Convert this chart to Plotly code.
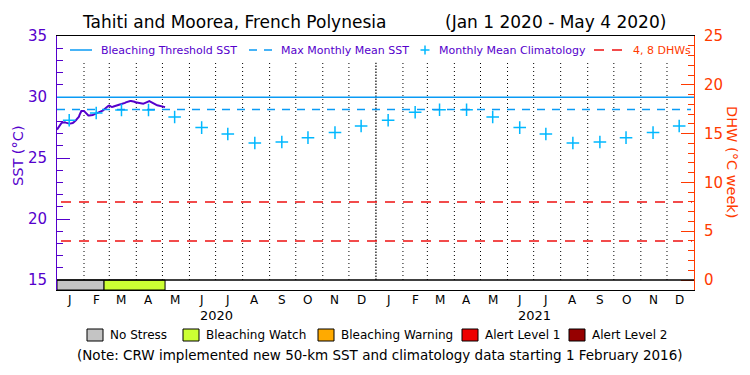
import plotly.graph_objects as go
import pandas as pd

# ---------------- data ----------------
title_left = "Tahiti and Moorea, French Polynesia"
title_right = "(Jan 1 2020 - May 4 2020)"

# daily SST (°C) starting Jan 1 2020, through May 4 2020
sst_start = "2020-01-01"
sst_values = [
    27.33, 27.45, 27.55, 27.65, 27.75, 27.85, 27.90, 27.93, 27.95, 27.93,
    27.90, 27.87, 27.84, 27.82, 27.82, 27.82, 27.82, 27.83, 27.87, 27.92,
    27.97, 28.05, 28.12, 28.20, 28.28, 28.36, 28.55, 28.75, 28.85, 28.86,
    28.86, 28.85, 28.78, 28.68, 28.58, 28.52, 28.48, 28.48, 28.48, 28.48,
    28.50, 28.53, 28.56, 28.59, 28.60, 28.62, 28.64, 28.68, 28.72, 28.77,
    28.80, 28.84, 28.88, 28.91, 28.97, 29.05, 29.12, 29.18, 29.23, 29.28,
    29.30, 29.25, 29.20, 29.18, 29.20, 29.23, 29.25, 29.28, 29.31, 29.33,
    29.36, 29.38, 29.40, 29.41, 29.43, 29.44, 29.45, 29.48, 29.52, 29.56,
    29.59, 29.62, 29.64, 29.66, 29.67, 29.67, 29.67, 29.67, 29.65, 29.61,
    29.57, 29.55, 29.54, 29.53, 29.52, 29.50, 29.49, 29.48, 29.46, 29.45,
    29.48, 29.52, 29.56, 29.59, 29.63, 29.66, 29.67, 29.63, 29.58, 29.54,
    29.49, 29.44, 29.40, 29.37, 29.35, 29.32, 29.30, 29.28, 29.27, 29.25,
    29.24, 29.22, 29.20, 29.18, 29.17,
]

# monthly mean climatology (°C), plotted mid-month
clim_dates = [
    "2020-01-15", "2020-02-15", "2020-03-15", "2020-04-15", "2020-05-15", "2020-06-15",
    "2020-07-15", "2020-08-15", "2020-09-15", "2020-10-15", "2020-11-15", "2020-12-15",
    "2021-01-15", "2021-02-15", "2021-03-15", "2021-04-15", "2021-05-15", "2021-06-15",
    "2021-07-15", "2021-08-15", "2021-09-15", "2021-10-15", "2021-11-15", "2021-12-15",
]
clim_values = [
    28.09, 28.69, 28.93, 28.93, 28.36, 27.49, 26.97, 26.23, 26.31, 26.67, 27.08, 27.62,
    28.09, 28.75, 28.95, 28.95, 28.36, 27.49, 26.97, 26.23, 26.31, 26.67, 27.08, 27.62,
]
month_labels = ["J", "F", "M", "A", "M", "J", "J", "A", "S", "O", "N", "D",
                "J", "F", "M", "A", "M", "J", "J", "A", "S", "O", "N", "D"]
month_starts = [
    "2020-02-01", "2020-03-01", "2020-04-01", "2020-05-01", "2020-06-01", "2020-07-01",
    "2020-08-01", "2020-09-01", "2020-10-01", "2020-11-01", "2020-12-01",
    "2021-02-01", "2021-03-01", "2021-04-01", "2021-05-01", "2021-06-01", "2021-07-01",
    "2021-08-01", "2021-09-01", "2021-10-01", "2021-11-01", "2021-12-01",
]
year_boundary = "2021-01-01"
year_labels = ["2020", "2021"]
year_centers = ["2020-07-02", "2021-07-02"]

max_monthly_mean = 28.97
bleaching_threshold = 29.97
dhw_levels = [4, 8]

# bleaching stress strip
stress_start = ["2020-01-01", "2020-02-24"]
stress_end = ["2020-02-24", "2020-05-04"]
stress_level = [0, 1]

stress_names = ["No Stress", "Bleaching Watch", "Bleaching Warning", "Alert Level 1", "Alert Level 2"]
stress_colors = ["#C4C4C4", "#CCFF33", "#FFAA00", "#EE0000", "#960000"]

note_text = "(Note: CRW implemented new 50-km SST and climatology data starting 1 February 2016)"

# ---------------- styling ----------------
PURPLE = "#5500CC"
ORANGE = "#FF3A00"
BLUE = "#0A9BF5"
CROSS = "#00B8FF"
RED = "#EE1111"
FONT = "DejaVu Sans"

L, R, T, B = 57, 56, 36, 85
W, H = 750, 375
PW, PH = W - L - R, H - T - B  # 637 x 254

def PX(px):
    return (px - L) / PW

def PY(py):
    return (H - B - py) / PH

# axis ranges: 15..35 SST and 0..25 DHW span 244 px; 10 px strip below
Y_LO = 15 - 10 * 20 / 244
Y2_LO = 0 - 10 * 25 / 244

sst_dates = pd.date_range(sst_start, periods=len(sst_values), freq="D")

fig = go.Figure()
fig.add_trace(go.Scatter(x=sst_dates, y=sst_values, mode="lines",
                         line=dict(color=PURPLE, width=2), hoverinfo="skip"))
fig.add_trace(go.Scatter(x=clim_dates, y=clim_values, mode="markers",
                         marker=dict(symbol="cross-thin", size=9,
                                     line=dict(color=CROSS, width=1.5)),
                         hoverinfo="skip"))
fig.add_trace(go.Scatter(x=[sst_dates[0]], y=[0], yaxis="y2", mode="markers",
                         marker=dict(opacity=0), hoverinfo="skip"))

shapes = []
# month separators
for d in month_starts:
    shapes.append(dict(type="line", xref="x", yref="y", x0=d, x1=d, y0=15, y1=32.8,
                       line=dict(color="black", width=1, dash="1px,3px"), layer="below"))
shapes.append(dict(type="line", xref="x", yref="y", x0=year_boundary, x1=year_boundary,
                   y0=15, y1=32.8, line=dict(color="black", width=1.2, dash="1.5px,1.5px"),
                   layer="below"))
# threshold lines
shapes.append(dict(type="line", xref="paper", yref="y", x0=0, x1=1,
                   y0=bleaching_threshold, y1=bleaching_threshold,
                   line=dict(color=BLUE, width=1.5)))
shapes.append(dict(type="line", xref="paper", yref="y", x0=0, x1=PX(691),
                   y0=max_monthly_mean, y1=max_monthly_mean,
                   line=dict(color=BLUE, width=1.5, dash="8px,7px")))
for lv in dhw_levels:
    shapes.append(dict(type="line", xref="paper", yref="y2", x0=PX(61), x1=PX(692),
                       y0=lv, y1=lv, line=dict(color=RED, width=1.5, dash="10px,8px")))
# stress strip
for s0, s1, lv in zip(stress_start, stress_end, stress_level):
    shapes.append(dict(type="rect", xref="x", yref="y", x0=s0, x1=s1, y0=Y_LO, y1=15,
                       fillcolor=stress_colors[lv], line=dict(color="black", width=1)))
shapes.append(dict(type="line", xref="paper", yref="y", x0=0, x1=1, y0=15, y1=15,
                   line=dict(color="black", width=1.5)))

annotations = []
# title
annotations.append(dict(xref="paper", yref="paper", x=PX(80), y=PY(22), text=title_left,
                        showarrow=False, xanchor="left", yanchor="middle",
                        font=dict(family=FONT, size=17, color="black")))
annotations.append(dict(xref="paper", yref="paper", x=PX(668), y=PY(22), text=title_right,
                        showarrow=False, xanchor="right", yanchor="middle",
                        font=dict(family=FONT, size=17, color="black")))

# in-plot legend
LY = PY(50)
shapes.append(dict(type="line", xref="paper", yref="paper", x0=PX(70), x1=PX(92), y0=LY, y1=LY,
                   line=dict(color=BLUE, width=1.5)))
shapes.append(dict(type="line", xref="paper", yref="paper", x0=PX(249), x1=PX(273), y0=LY, y1=LY,
                   line=dict(color=BLUE, width=1.5, dash="8px,7px")))
shapes.append(dict(type="line", xref="paper", yref="paper", x0=PX(420.5), x1=PX(429.5), y0=LY, y1=LY,
                   line=dict(color=CROSS, width=1.5)))
shapes.append(dict(type="line", xref="paper", yref="paper", x0=PX(425), x1=PX(425),
                   y0=PY(45.5), y1=PY(54.5), line=dict(color=CROSS, width=1.5)))
shapes.append(dict(type="line", xref="paper", yref="paper", x0=PX(594), x1=PX(624), y0=LY, y1=LY,
                   line=dict(color=RED, width=1.5, dash="10px,8px")))
for x_left, txt, col in [(99, "Bleaching Threshold SST", PURPLE),
                         (279, "Max Monthly Mean SST", PURPLE),
                         (437, "Monthly Mean Climatology", PURPLE),
                         (631, "4, 8 DHWs", ORANGE)]:
    annotations.append(dict(xref="paper", yref="paper", x=PX(x_left), y=LY, text=txt,
                            showarrow=False, xanchor="left", yanchor="middle",
                            font=dict(family=FONT, size=11, color=col)))

# month + year labels
for md, ml in zip(clim_dates, month_labels):
    annotations.append(dict(xref="x", yref="paper", x=md, y=PY(299.5), text=ml,
                            showarrow=False, xanchor="center", yanchor="middle",
                            font=dict(family=FONT, size=12, color="black")))
for yc, yl in zip(year_centers, year_labels):
    annotations.append(dict(xref="x", yref="paper", x=yc, y=PY(315), text=yl,
                            showarrow=False, xanchor="center", yanchor="middle",
                            font=dict(family=FONT, size=13, color="black")))

# bottom stress legend
box_x = [87, 183, 318, 462, 569]
for bx, name, col in zip(box_x, stress_names, stress_colors):
    shapes.append(dict(type="rect", xref="paper", yref="paper", x0=PX(bx), x1=PX(bx + 16),
                       y0=PY(341), y1=PY(329), fillcolor=col,
                       line=dict(color="black", width=1)))
    annotations.append(dict(xref="paper", yref="paper", x=PX(bx + 21), y=PY(335), text=name,
                            showarrow=False, xanchor="left", yanchor="middle",
                            font=dict(family=FONT, size=12, color="black")))
annotations.append(dict(xref="paper", yref="paper", x=PX(380), y=PY(355), text=note_text,
                        showarrow=False, xanchor="center", yanchor="middle",
                        font=dict(family=FONT, size=13.5, color="black")))

# axis titles
annotations.append(dict(xref="paper", yref="paper", x=PX(18), y=PY(156), text="SST (°C)",
                        showarrow=False, xanchor="center", yanchor="middle", textangle=-90,
                        font=dict(family=FONT, size=14.5, color=PURPLE)))
annotations.append(dict(xref="paper", yref="paper", x=PX(732), y=PY(162), text="DHW (°C week)",
                        showarrow=False, xanchor="center", yanchor="middle", textangle=90,
                        font=dict(family=FONT, size=14.5, color=ORANGE)))

fig.update_layout(
    width=W, height=H, margin=dict(l=L, r=R, t=T, b=B, autoexpand=False),
    paper_bgcolor="white", plot_bgcolor="white", showlegend=False,
    font=dict(family=FONT, size=12, color="black"),
    xaxis=dict(type="date", range=["2020-01-01", "2022-01-01"], showgrid=False, zeroline=False,
               showline=True, linecolor="black", linewidth=1, mirror=True,
               showticklabels=False, ticks="", automargin=False),
    yaxis=dict(range=[Y_LO, 35], tickmode="linear", tick0=15, dtick=5,
               ticks="inside", ticklen=13, tickwidth=1, tickcolor=PURPLE,
               showline=True, linecolor=PURPLE, linewidth=1,
               showgrid=False, zeroline=False, automargin=False,
               tickfont=dict(family=FONT, size=15, color=PURPLE), ticklabelstandoff=6,
               minor=dict(tickmode="linear", tick0=15, dtick=1, ticks="inside",
                          ticklen=6, tickcolor=PURPLE, tickwidth=1, showgrid=False)),
    yaxis2=dict(range=[Y2_LO, 25], overlaying="y", side="right", tickmode="linear",
                tick0=0, dtick=5, ticks="inside", ticklen=13, tickwidth=1, tickcolor=ORANGE,
                showline=True, linecolor=ORANGE, linewidth=1,
                showgrid=False, zeroline=False, automargin=False,
                tickfont=dict(family=FONT, size=15, color=ORANGE), ticklabelstandoff=6,
                minor=dict(tickmode="linear", tick0=0, dtick=1, ticks="inside",
                           ticklen=6, tickcolor=ORANGE, tickwidth=1, showgrid=False)),
    shapes=shapes, annotations=annotations,
)

fig.write_html("out.html", config={"displayModeBar": False},
               post_script="document.body.style.margin='0px';")
